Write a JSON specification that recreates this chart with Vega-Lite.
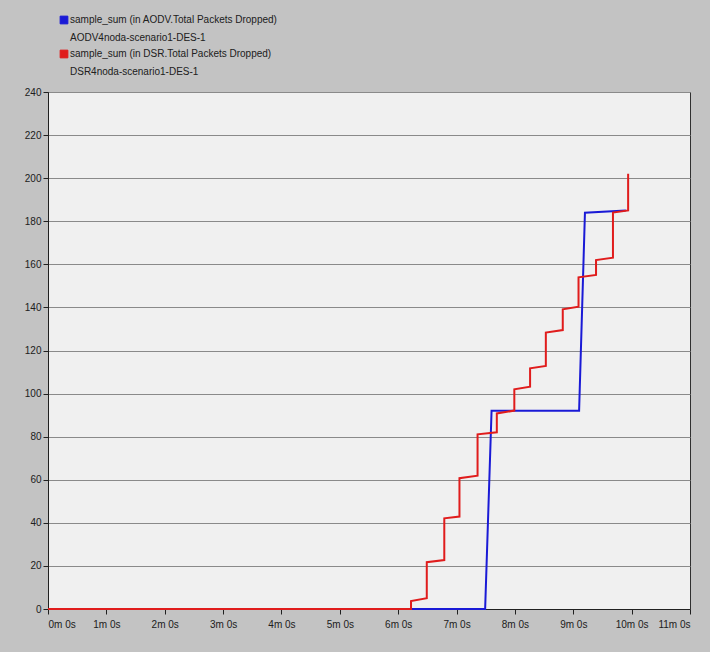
{
  "$schema": "https://vega.github.io/schema/vega-lite/v6.json",
  "autosize": {"type": "none"},
  "width": 642,
  "height": 517,
  "padding": {"left": 48, "top": 92, "right": 20, "bottom": 43},
  "background": "#c3c3c3",
  "config": {
    "view": {"fill": "#f0f0f0", "stroke": "#303030", "strokeWidth": 1},
    "font": "Liberation Sans",
    "axis": {
      "labelFont": "Liberation Sans",
      "labelFontSize": 10,
      "labelColor": "#202020",
      "domainColor": "#202020",
      "tickColor": "#202020",
      "tickSize": 5,
      "title": null
    }
  },
  "data": {
    "values": [
      {"series": "AODV", "i": 0, "t": 0, "v": 0},
      {"series": "AODV", "i": 1, "t": 7.49, "v": 0},
      {"series": "AODV", "i": 2, "t": 7.6, "v": 92},
      {"series": "AODV", "i": 3, "t": 9.1, "v": 92},
      {"series": "AODV", "i": 4, "t": 9.2, "v": 184},
      {"series": "AODV", "i": 5, "t": 9.9, "v": 185},
      {"series": "DSR", "i": 0, "t": 0, "v": 0},
      {"series": "DSR", "i": 1, "t": 6.22, "v": 0},
      {"series": "DSR", "i": 2, "t": 6.22, "v": 3.7},
      {"series": "DSR", "i": 3, "t": 6.49, "v": 5.0},
      {"series": "DSR", "i": 4, "t": 6.49, "v": 21.7},
      {"series": "DSR", "i": 5, "t": 6.79, "v": 22.7},
      {"series": "DSR", "i": 6, "t": 6.79, "v": 42.1},
      {"series": "DSR", "i": 7, "t": 7.05, "v": 42.9},
      {"series": "DSR", "i": 8, "t": 7.05, "v": 60.7},
      {"series": "DSR", "i": 9, "t": 7.36, "v": 61.9},
      {"series": "DSR", "i": 10, "t": 7.36, "v": 81.1},
      {"series": "DSR", "i": 11, "t": 7.69, "v": 82.0},
      {"series": "DSR", "i": 12, "t": 7.69, "v": 90.8},
      {"series": "DSR", "i": 13, "t": 7.99, "v": 92.1},
      {"series": "DSR", "i": 14, "t": 7.99, "v": 102.0},
      {"series": "DSR", "i": 15, "t": 8.26, "v": 103.2},
      {"series": "DSR", "i": 16, "t": 8.26, "v": 111.7},
      {"series": "DSR", "i": 17, "t": 8.53, "v": 112.8},
      {"series": "DSR", "i": 18, "t": 8.53, "v": 128.3},
      {"series": "DSR", "i": 19, "t": 8.82, "v": 129.5},
      {"series": "DSR", "i": 20, "t": 8.82, "v": 139.1},
      {"series": "DSR", "i": 21, "t": 9.09, "v": 140.3},
      {"series": "DSR", "i": 22, "t": 9.09, "v": 154.0},
      {"series": "DSR", "i": 23, "t": 9.39, "v": 155.1},
      {"series": "DSR", "i": 24, "t": 9.39, "v": 162.0},
      {"series": "DSR", "i": 25, "t": 9.68, "v": 163.1},
      {"series": "DSR", "i": 26, "t": 9.68, "v": 184.0},
      {"series": "DSR", "i": 27, "t": 9.94, "v": 185.0},
      {"series": "DSR", "i": 28, "t": 9.94, "v": 202}
    ]
  },
  "mark": {"type": "line", "strokeWidth": 2},
  "encoding": {
    "x": {
      "field": "t", "type": "quantitative",
      "scale": {"domain": [0, 11], "nice": false, "zero": false},
      "axis": {"values": [0,1,2,3,4,5,6,7,8,9,10,11], "grid": false, "labelExpr": "datum.value + 'm 0s'", "labelPadding": 5}
    },
    "y": {
      "field": "v", "type": "quantitative",
      "scale": {"domain": [0, 240], "nice": false},
      "axis": {"values": [0,20,40,60,80,100,120,140,160,180,200,220,240], "grid": true, "gridColor": "#8a8a8a", "gridOpacity": 1, "gridWidth": 1, "labelPadding": 2}
    },
    "order": {"field": "i", "type": "quantitative"},
    "color": {
      "field": "series", "type": "nominal",
      "scale": {"domain": ["AODV", "DSR"], "range": ["#1a1ad6", "#e01c1c"]},
      "legend": {
        "orient": "none",
        "legendX": 11,
        "legendY": -77,
        "title": null,
        "symbolType": "square",
        "symbolSize": 60,
        "symbolStrokeWidth": 1,
        "symbolStrokeColor": "#101040",
        "symbolOpacity": 1,
        "rowPadding": 5,
        "labelFont": "Liberation Sans",
        "labelFontSize": 10,
        "labelColor": "#202020",
        "labelBaseline": "top",
        "labelOffset": 1,
        "labelLimit": 400,
        "labelExpr": "datum.label == 'AODV' ? ['sample_sum (in AODV.Total Packets Dropped)', 'AODV4noda-scenario1-DES-1'] : ['sample_sum (in DSR.Total Packets Dropped)', 'DSR4noda-scenario1-DES-1']",
        "encode": {
          "labels": {"update": {"lineHeight": {"value": 18}, "dy": {"value": -5}}},
          "symbols": {"update": {"shape": {"value": "square"}, "fill": {"scale": "color", "field": "value"}, "fillOpacity": {"value": 1}, "stroke": {"value": "#101030"}}}
        }
      }
    }
  }
}
